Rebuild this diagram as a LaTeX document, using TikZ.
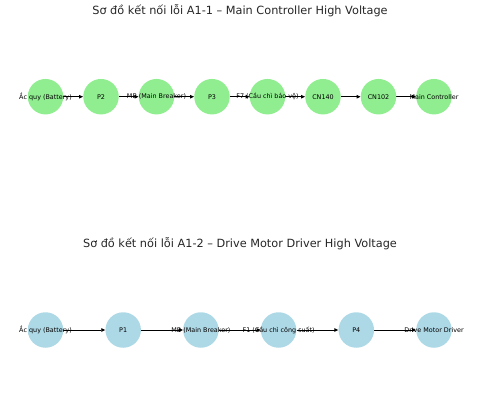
\documentclass[tikz,border=0pt]{standalone}
\usepackage{fontspec}
\setmainfont{DejaVu Sans}
\usetikzlibrary{arrows.meta}
\pgfdeclarelayer{background}
\pgfsetlayers{background,main}
\definecolor{lgreen}{RGB}{144,238,144}
\definecolor{lblue}{RGB}{173,216,230}
\definecolor{titlegray}{RGB}{38,38,38}
\begin{document}
\begin{tikzpicture}[x=1pt,y=-1pt,
  greennode/.style={circle,fill=lgreen,draw=none,minimum size=35.5pt,inner sep=0pt},
  bluenode/.style={circle,fill=lblue,draw=none,minimum size=35.5pt,inner sep=0pt},
  lbl/.style={font=\fontsize{6.4}{7}\selectfont,text=black,inner sep=0pt},
  ttl/.style={font=\fontsize{11.3}{13}\selectfont,text=titlegray,inner sep=0pt},
  conn/.style={draw=black,line width=0.9pt,-{Triangle[length=4pt,width=3.5pt]}}]
\useasboundingbox (0,0) rectangle (480,413);
\node[ttl] (t1) at (240,11) {Sơ đồ kết nối lỗi A1-1 – Main Controller High Voltage};
\node[ttl] (t2) at (240,244) {Sơ đồ kết nối lỗi A1-2 – Drive Motor Driver High Voltage};
% row 1
\node[greennode,label={[lbl]center:Ắc quy (Battery)}] (a1) at (45.5,96.7) {};
\node[greennode,label={[lbl]center:P2}] (a2) at (101,96.7) {};
\node[greennode,label={[lbl]center:MB (Main Breaker)}] (a3) at (156.5,96.7) {};
\node[greennode,label={[lbl]center:P3}] (a4) at (212,96.7) {};
\node[greennode,label={[lbl]center:F7 (Cầu chì bảo vệ)}] (a5) at (267.5,96.7) {};
\node[greennode,label={[lbl]center:CN140}] (a6) at (323,96.7) {};
\node[greennode,label={[lbl]center:CN102}] (a7) at (378.5,96.7) {};
\node[greennode,label={[lbl]center:Main Controller}] (a8) at (434,96.7) {};
% row 2
\node[bluenode,label={[lbl]center:Ắc quy (Battery)}] (b1) at (45.5,330) {};
\node[bluenode,label={[lbl]center:P1}] (b2) at (123.2,330) {};
\node[bluenode,label={[lbl]center:MB (Main Breaker)}] (b3) at (200.9,330) {};
\node[bluenode,label={[lbl]center:F1 (Cầu chì công suất)}] (b4) at (278.6,330) {};
\node[bluenode,label={[lbl]center:P4}] (b5) at (356.3,330) {};
\node[bluenode,label={[lbl]center:Drive Motor Driver}] (b6) at (434,330) {};
\begin{pgfonlayer}{background}
\foreach \i/\j in {a1/a2,a2/a3,a3/a4,a4/a5,a5/a6,a6/a7,a7/a8,b1/b2,b2/b3,b3/b4,b4/b5,b5/b6}
  \draw[conn] (\i.east) -- (\j.west);
\end{pgfonlayer}
\end{tikzpicture}
\end{document}
